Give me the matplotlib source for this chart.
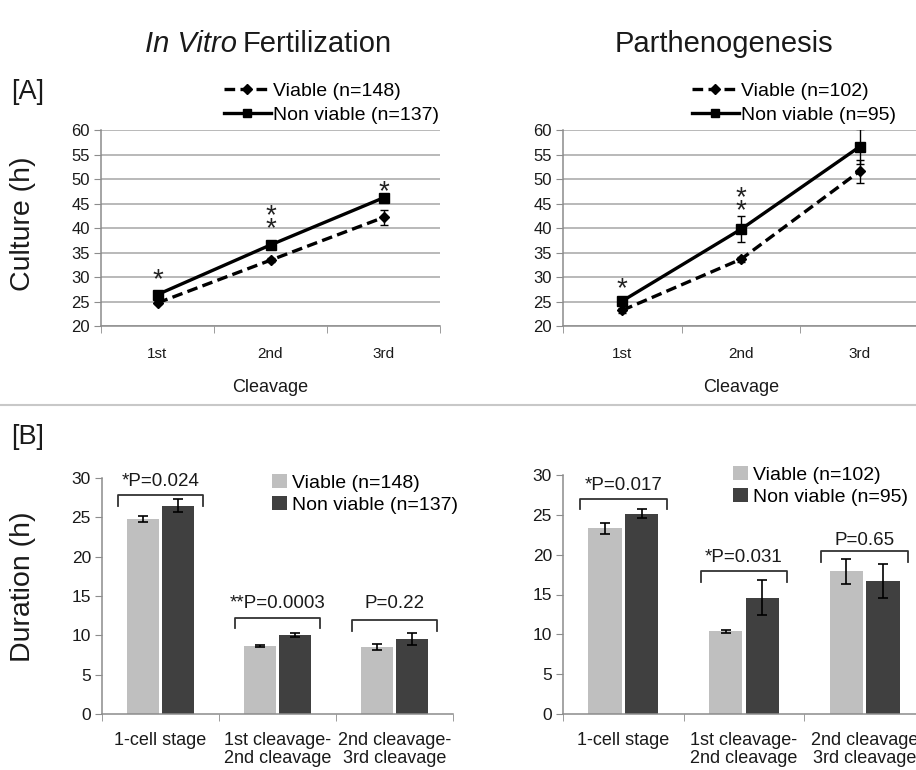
import matplotlib
matplotlib.use("Agg")
import matplotlib.pyplot as plt
from matplotlib.lines import Line2D
from matplotlib.patches import Patch
import numpy as np

plt.rcParams['font.family'] = ['Liberation Sans', 'DejaVu Sans']

# ---------------- data ----------------
cleavage_labels = ['1st', '2nd', '3rd']

ivf_viable = [24.8, 33.5, 42.2]
ivf_viable_err = [0.3, 0.4, 1.5]
ivf_nonviable = [26.5, 36.6, 46.2]
ivf_nonviable_err = [0.8, 0.4, 0.6]

parth_viable = [23.3, 33.7, 51.6]
parth_viable_err = [0.5, 0.5, 2.3]
parth_nonviable = [25.2, 39.8, 56.6]
parth_nonviable_err = [0.5, 2.7, 3.6]

# significance marks on the line charts (category index, text, centre of lowest star)
ivf_star_cat = [0, 1, 2]
ivf_star_txt = ['*', '*\n*', '*']
ivf_star_y = [31.1, 41.6, 49.1]
parth_star_cat = [0, 1]
parth_star_txt = ['*', '*\n*']
parth_star_y = [29.4, 45.3]

ivf_legend = ['Viable (n=148)', 'Non viable (n=137)']
parth_legend = ['Viable (n=102)', 'Non viable (n=95)']

ivf_stage_labels = ['1-cell stage', '1st cleavage-\n2nd cleavage', '2nd cleavage-\n3rd cleavage']
parth_stage_labels = ['1-cell stage', '1st cleavage-\n2nd cleavage', '2nd cleavage\n3rd cleavage']

ivf_dur_viable = [24.8, 8.65, 8.5]
ivf_dur_viable_err = [0.35, 0.1, 0.4]
ivf_dur_nonviable = [26.5, 10.0, 9.55]
ivf_dur_nonviable_err = [0.8, 0.25, 0.8]

parth_dur_viable = [23.3, 10.4, 17.9]
parth_dur_viable_err = [0.65, 0.2, 1.6]
parth_dur_nonviable = [25.15, 14.6, 16.7]
parth_dur_nonviable_err = [0.55, 2.2, 2.1]

ivf_pvals = ['*P=0.024', '**P=0.0003', 'P=0.22']
ivf_bracket_top = [27.8, 12.2, 11.9]
ivf_ptext_y = [29.6, 14.1, 14.0]
parth_pvals = ['*P=0.017', '*P=0.031', 'P=0.65']
parth_bracket_top = [27.0, 17.9, 20.4]
parth_ptext_y = [28.7, 19.6, 21.8]

# ---------------- style ----------------
W, H = 916, 770
fig = plt.figure(figsize=(W / 100, H / 100), dpi=100)

AX_COL = '#8c8c8c'
GRID_COL = '#a6a6a6'
LIGHT = '#bfbfbf'
DARK = '#404040'
TXT = '#1a1a1a'
DASH = (0, (3.2, 1.6))
STAR_FS = 20


def fx(px):
    return px / W


def fy(py):
    return 1 - py / H


def line_panel(ax, v, ve, nv, nve, star_cat, star_txt, star_y, legend_labels, leg_x):
    x = np.arange(len(cleavage_labels))
    ax.errorbar(x, v, yerr=ve, color='black', lw=2.4, ls=DASH,
                marker='D', ms=5.5, capsize=3, elinewidth=1, capthick=1, zorder=3)
    ax.errorbar(x, nv, yerr=nve, color='black', lw=2.4, ls='-',
                marker='s', ms=6.5, capsize=3, elinewidth=1, capthick=1, zorder=3)
    for c, t, y in zip(star_cat, star_txt, star_y):
        ax.annotate(t, (c, y), xytext=(0, -0.78 * STAR_FS), textcoords='offset points',
                    ha='center', va='bottom', fontsize=STAR_FS, color='#222222',
                    linespacing=0.32)
    ax.set_xlim(-0.5, 2.5)
    ax.set_ylim(20, 60)
    ax.set_yticks(np.arange(20, 61, 5))
    ax.yaxis.grid(True, color=GRID_COL, lw=1.1)
    ax.set_axisbelow(True)
    ax.set_xticks(x)
    ax.set_xticklabels(cleavage_labels, fontsize=11, color=TXT)
    ax.set_xticks([-0.5, 0.5, 1.5, 2.5], minor=True)
    ax.tick_params(axis='x', which='major', length=0, pad=15)
    ax.tick_params(axis='x', which='minor', length=5, color=AX_COL, direction='out')
    ax.tick_params(axis='y', length=5, color=AX_COL, labelsize=12, labelcolor=TXT, pad=3)
    for s in ['top', 'right']:
        ax.spines[s].set_visible(False)
    for s in ['left', 'bottom']:
        ax.spines[s].set_color(AX_COL)
        ax.spines[s].set_linewidth(1.1)
    ax.set_xlabel('Cleavage', fontsize=13, color=TXT, labelpad=13)
    handles = [Line2D([], [], color='black', lw=2.4, ls=DASH, marker='D', ms=5),
               Line2D([], [], color='black', lw=2.4, ls='-', marker='s', ms=5.5)]
    fig.legend(handles, legend_labels, loc='center left', bbox_to_anchor=(leg_x, fy(103)),
               frameon=False, prop={'size': 14},
               handlelength=2.4, handletextpad=0.12, labelspacing=0.35,
               borderpad=0, borderaxespad=0)


def bar_panel(ax, labels, v, ve, nv, nve, pvals, btop, ptext_y, legend_labels, leg_x, leg_y):
    x = np.arange(len(labels))
    w = 0.275
    off = 0.152
    ekw = dict(elinewidth=1.2, capthick=1.2, ecolor='black')
    ax.bar(x - off, v, w, color=LIGHT, yerr=ve, capsize=3.5, error_kw=ekw, zorder=2)
    ax.bar(x + off, nv, w, color=DARK, yerr=nve, capsize=3.5, error_kw=ekw, zorder=2)
    hw = 0.36
    leg = 1.3
    for xi, top, txt, ty in zip(x, btop, pvals, ptext_y):
        ax.plot([xi - hw, xi - hw, xi + hw, xi + hw], [top - leg, top, top, top - leg],
                color='#333333', lw=1.3, clip_on=False)
        ax.text(xi, ty, txt, ha='center', va='center', fontsize=13.5, color=TXT)
    ax.set_xlim(-0.5, 2.5)
    ax.set_ylim(0, 30)
    ax.set_yticks(np.arange(0, 31, 5))
    ax.set_xticks(x)
    ax.set_xticklabels(labels, fontsize=13, color=TXT, linespacing=1.05)
    ax.set_xticks([-0.5, 0.5, 1.5, 2.5], minor=True)
    ax.tick_params(axis='x', which='major', length=0, pad=13)
    ax.tick_params(axis='x', which='minor', length=5, color=AX_COL, direction='out')
    ax.tick_params(axis='y', length=5, color=AX_COL, labelsize=12.5, labelcolor=TXT, pad=3)
    for s in ['top', 'right']:
        ax.spines[s].set_visible(False)
    for s in ['left', 'bottom']:
        ax.spines[s].set_color(AX_COL)
        ax.spines[s].set_linewidth(1.1)
    handles = [Patch(facecolor=LIGHT), Patch(facecolor=DARK)]
    fig.legend(handles, legend_labels, loc='center left',
               bbox_to_anchor=(leg_x, leg_y), frameon=False,
               prop={'size': 14}, handlelength=0.75, handleheight=0.75,
               handletextpad=0.28, labelspacing=0.22, borderpad=0, borderaxespad=0)


axA1 = fig.add_axes([fx(101), fy(326.5), fx(440 - 101), fy(130) - fy(326.5)])
axA2 = fig.add_axes([fx(563), fy(326.5), fx(919 - 563), fy(130) - fy(326.5)])
axB1 = fig.add_axes([fx(102), fy(714), fx(453 - 102), fy(478) - fy(714)])
axB2 = fig.add_axes([fx(563), fy(714), fx(925 - 563), fy(475) - fy(714)])

line_panel(axA1, ivf_viable, ivf_viable_err, ivf_nonviable, ivf_nonviable_err,
           ivf_star_cat, ivf_star_txt, ivf_star_y, ivf_legend, fx(224))
line_panel(axA2, parth_viable, parth_viable_err, parth_nonviable, parth_nonviable_err,
           parth_star_cat, parth_star_txt, parth_star_y, parth_legend, fx(692))

bar_panel(axB1, ivf_stage_labels, ivf_dur_viable, ivf_dur_viable_err, ivf_dur_nonviable,
          ivf_dur_nonviable_err, ivf_pvals, ivf_bracket_top, ivf_ptext_y, ivf_legend,
          fx(272), fy(494))
bar_panel(axB2, parth_stage_labels, parth_dur_viable, parth_dur_viable_err, parth_dur_nonviable,
          parth_dur_nonviable_err, parth_pvals, parth_bracket_top, parth_ptext_y, parth_legend,
          fx(733), fy(486))

# titles and labels
TS = 21
TB = 52  # baseline (px from top)
t1 = fig.text(fx(145), fy(TB), 'In Vitro', fontsize=TS, style='italic', va='baseline',
              ha='left', color=TXT)
fig.canvas.draw()
bb = t1.get_window_extent()
fig.text((bb.x1 + 6) / W, fy(TB), 'Fertilization', fontsize=TS, va='baseline', ha='left',
         color=TXT)
fig.text(fx(724), fy(TB), 'Parthenogenesis', fontsize=TS, va='baseline', ha='center',
         color=TXT)

fig.text(fx(28), fy(92), '[A]', fontsize=19.5, ha='center', va='center', color=TXT)
fig.text(fx(28), fy(437), '[B]', fontsize=19.5, ha='center', va='center', color=TXT)
fig.text(fx(23), fy(224), 'Culture (h)', fontsize=20.5, rotation=90, ha='center', va='center', color=TXT)
fig.text(fx(23), fy(587), 'Duration (h)', fontsize=20.5, rotation=90, ha='center', va='center', color=TXT)

fig.add_artist(Line2D([0, 1], [fy(405), fy(405)], transform=fig.transFigure,
                      color='#c8c8c8', lw=1.5))

fig.savefig('out.png', dpi=100, facecolor='white')
